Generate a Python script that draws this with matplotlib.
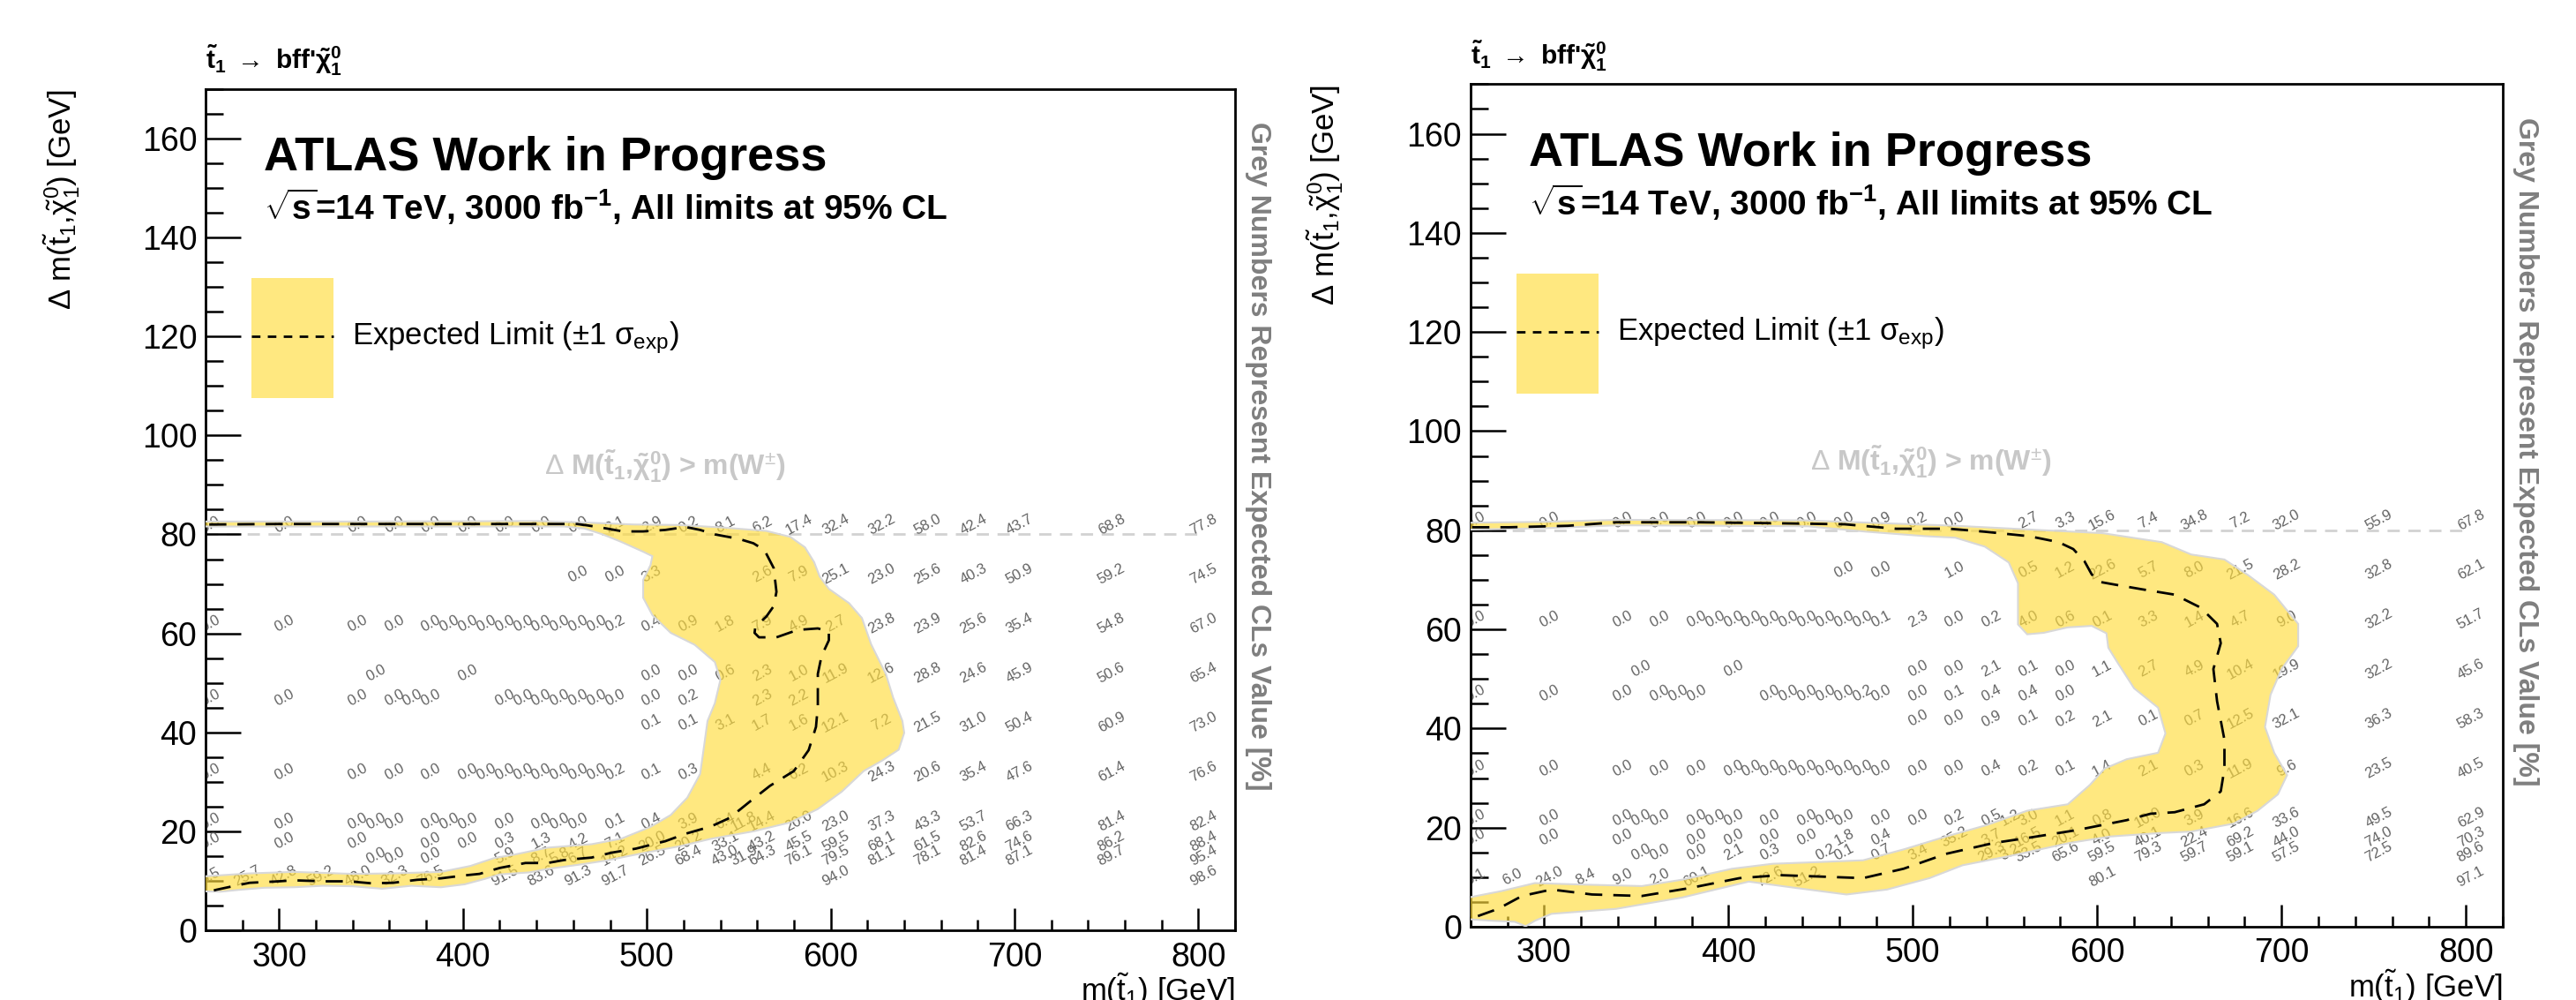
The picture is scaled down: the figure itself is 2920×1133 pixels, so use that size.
import matplotlib
matplotlib.use("Agg")
import matplotlib.pyplot as plt
from matplotlib.patches import Polygon, Rectangle

plt.rcParams['font.family'] = ['Liberation Sans', 'DejaVu Sans']
plt.rcParams['mathtext.fontset'] = 'custom'
plt.rcParams['mathtext.rm'] = 'Liberation Sans'
plt.rcParams['mathtext.it'] = 'Liberation Sans:italic'
plt.rcParams['mathtext.bf'] = 'Liberation Sans:bold'

# ---------------- grey CLs numbers, keyed by delta m row ----------------
left_m = {
    80: [260, 300, 340, 360, 380, 400, 420, 440, 460, 480, 500, 520, 540, 560, 580, 600, 625, 650, 675, 700, 750, 800],
    70: [460, 480, 500, 560, 580, 600, 625, 650, 675, 700, 750, 800],
    60: [260, 300, 340, 360, 380, 390, 400, 410, 420, 430, 440, 450, 460, 470, 480, 500, 520, 540, 560, 580, 600, 625, 650, 675, 700, 750, 800],
    50: [350, 400, 500, 520, 540, 560, 580, 600, 625, 650, 675, 700, 750, 800],
    45: [260, 300, 340, 360, 370, 380, 420, 430, 440, 450, 460, 470, 480, 500, 520, 560, 580],
    40: [500, 520, 540, 560, 580, 600, 625, 650, 675, 700, 750, 800],
    30: [260, 300, 340, 360, 380, 400, 410, 420, 430, 440, 450, 460, 470, 480, 500, 520, 560, 580, 600, 625, 650, 675, 700, 750, 800],
    20: [260, 300, 340, 350, 360, 380, 390, 400, 420, 440, 450, 460, 480, 500, 520, 540, 550, 560, 580, 600, 625, 650, 675, 700, 750, 800],
    16: [260, 300, 340, 380, 400, 420, 440, 460, 480, 500, 520, 540, 560, 580, 600, 625, 650, 675, 700, 750, 800],
    13: [350, 360, 380, 420, 440, 450, 460, 480, 500, 520, 540, 550, 560, 580, 600, 625, 650, 675, 700, 750, 800],
    9: [260, 280, 300, 320, 340, 360, 380, 420, 440, 460, 480, 600, 800],
}
left_cls = {
    80: [0.0] * 8 + [0.0, 2.1, 2.9, 0.2, 8.1, 6.2, 17.4, 32.4, 32.2, 58.0, 42.4, 43.7, 68.8, 77.8],
    70: [0.0, 0.0, 3.3, 2.6, 7.9, 25.1, 23.0, 25.6, 40.3, 50.9, 59.2, 74.5],
    60: [0.0] * 14 + [0.2, 0.4, 0.9, 1.8, 7.9, 4.9, 2.7, 23.8, 23.9, 25.6, 35.4, 54.8, 67.0],
    50: [0.0, 0.0, 0.0, 0.0, 0.6, 2.3, 1.0, 11.9, 12.6, 28.8, 24.6, 45.9, 50.6, 65.4],
    45: [0.0] * 14 + [0.2, 2.3, 2.2],
    40: [0.1, 0.1, 3.1, 1.7, 1.6, 12.1, 7.2, 21.5, 31.0, 50.4, 60.9, 73.0],
    30: [0.0] * 13 + [0.2, 0.1, 0.3, 4.4, 6.2, 10.3, 24.3, 20.6, 35.4, 47.6, 61.4, 76.6],
    20: [0.0] * 12 + [0.1, 0.4, 3.9, 6.4, 11.8, 14.4, 20.0, 23.0, 37.3, 43.3, 53.7, 66.3, 81.4, 82.4],
    16: [0.0, 0.0, 0.0, 0.0, 0.0, 0.3, 1.3, 4.2, 7.1, 20.0, 20.2, 33.1, 43.2, 45.5, 59.5, 68.1, 61.5, 82.6, 74.6, 86.2, 88.4],
    13: [0.0, 0.0, 0.0, 5.9, 8.7, 5.8, 6.7, 14.2, 26.5, 68.4, 43.0, 31.9, 64.3, 76.1, 79.5, 81.1, 78.1, 81.4, 87.1, 89.7, 95.4],
    9: [5.5, 25.7, 42.8, 59.2, 48.0, 32.3, 76.5, 91.5, 83.6, 91.3, 91.7, 94.0, 98.6],
}

right_m = {
    80: [260, 300, 340, 360, 380, 400, 420, 440, 460, 480, 500, 520, 560, 580, 600, 625, 650, 675, 700, 750, 800],
    70: [460, 480, 520, 560, 580, 600, 625, 650, 675, 700, 750, 800],
    60: [260, 300, 340, 360, 380, 390, 400, 410, 420, 430, 440, 450, 460, 470, 480, 500, 520, 540, 560, 580, 600, 625, 650, 675, 700, 750, 800],
    50: [350, 400, 500, 520, 540, 560, 580, 600, 625, 650, 675, 700, 750, 800],
    45: [260, 300, 340, 360, 370, 380, 420, 430, 440, 450, 460, 470, 480, 500, 520, 540, 560, 580],
    40: [500, 520, 540, 560, 580, 600, 625, 650, 675, 700, 750, 800],
    30: [260, 300, 340, 360, 380, 400, 410, 420, 430, 440, 450, 460, 470, 480, 500, 520, 540, 560, 580, 600, 625, 650, 675, 700, 750, 800],
    20: [260, 300, 340, 350, 360, 380, 390, 400, 420, 440, 450, 460, 480, 500, 520, 540, 550, 560, 580, 600, 625, 650, 675, 700, 750, 800],
    16: [260, 300, 340, 380, 400, 420, 440, 460, 480, 520, 540, 560, 580, 600, 625, 650, 675, 700, 750, 800],
    13: [350, 360, 380, 400, 420, 450, 460, 480, 500, 540, 550, 560, 580, 600, 625, 650, 675, 700, 750, 800],
    8: [260, 280, 300, 320, 340, 360, 380, 420, 440, 600, 800],
}
right_cls = {
    80: [0.0] * 9 + [0.9, 0.2, 0.0, 2.7, 3.3, 15.6, 7.4, 34.8, 7.2, 32.0, 55.9, 67.8],
    70: [0.0, 0.0, 1.0, 0.5, 1.2, 22.6, 5.7, 8.0, 21.5, 28.2, 32.8, 62.1],
    60: [0.0] * 14 + [0.1, 2.3, 0.0, 0.2, 4.0, 0.6, 0.1, 3.3, 1.4, 4.7, 9.0, 32.2, 51.7],
    50: [0.0, 0.0, 0.0, 0.0, 2.1, 0.1, 0.0, 1.1, 2.7, 4.9, 10.4, 19.9, 32.2, 45.6],
    45: [0.0] * 11 + [0.2, 0.0, 0.0, 0.1, 0.4, 0.4, 0.0],
    40: [0.0, 0.0, 0.9, 0.1, 0.2, 2.1, 0.1, 0.7, 12.5, 32.1, 36.3, 58.3],
    30: [0.0] * 16 + [0.4, 0.2, 0.1, 1.4, 2.1, 0.3, 11.9, 9.6, 23.5, 40.5],
    20: [0.0] * 14 + [0.2, 0.5, 1.2, 3.0, 1.1, 0.8, 10.0, 3.9, 16.6, 33.6, 49.5, 62.9],
    16: [0.0, 0.0, 0.0, 0.0, 0.0, 0.0, 0.0, 1.8, 0.4, 35.2, 3.7, 16.5, 20.1, 4.0, 40.1, 22.4, 69.2, 44.0, 74.0, 70.3],
    13: [0.0, 0.0, 0.0, 2.1, 0.3, 0.2, 0.1, 0.7, 3.4, 29.3, 3.2, 33.5, 65.6, 59.5, 79.3, 59.7, 59.1, 57.5, 72.5, 89.6],
    8: [0.1, 6.0, 24.0, 8.4, 9.0, 2.0, 60.1, 72.6, 51.2, 80.1, 97.1],
}

# ---------------- expected limit contour and +-1 sigma band ----------------
left_exp_x = [262, 300, 445, 462, 468, 478, 487, 498, 510, 521, 529, 537, 550, 558, 564, 569, 570.5, 569, 565, 559,
              558.6, 561, 570.5, 582, 593, 599, 599, 595, 593, 593, 592, 588, 580, 567, 556, 545, 535, 521, 510, 494,
              481, 470, 455, 446, 434, 420, 409, 401, 388, 375, 362, 350, 338, 324, 308, 300, 284, 276, 266, 262]
left_exp_y = [82.0, 82.1, 82.1, 82.1, 81.8, 81.2, 80.6, 80.6, 80.9, 81.5, 80.9, 80.0, 79.1, 78.2, 76.8, 73.2, 68.4, 65.5, 63.4, 61.3,
              60.1, 59.2, 59.2, 60.7, 61.0, 60.4, 58.6, 55.4, 51.8, 45.3, 41.1, 36.4, 32.2, 29.2, 26.0, 22.7, 21.0, 19.5, 18.0, 16.5,
              15.7, 14.7, 14.2, 13.6, 13.6, 12.6, 11.4, 11.1, 10.5, 10.2, 9.6, 9.5, 9.9, 9.9, 10.1, 9.9, 9.6, 9.0, 8.2, 7.8]

left_outer_x = [255, 350, 440, 466, 493, 517, 541, 565, 578, 586, 591, 594, 599, 610, 617, 622, 630, 634, 639, 640, 637, 628,
                618, 606, 593, 578, 558, 535, 518, 498, 478, 462, 446, 436, 420, 412, 401, 388, 372, 356, 340, 324, 308,
                292, 279, 268, 255]
left_outer_y = [82.6, 82.6, 82.7, 82.4, 82.0, 81.9, 81.4, 80.7, 79.5, 77.4, 74.4, 71.5, 69.0, 66.1, 63.1, 57.8, 51.8, 47.0, 42.3, 39.9, 36.5, 34.3,
                32.2, 28.0, 24.5, 21.8, 20.0, 18.5, 17.0, 15.6, 14.1, 13.2, 12.4, 11.7, 11.3, 10.4, 9.3, 8.7, 9.0, 8.4, 8.9, 9.0, 8.7,
                8.6, 8.2, 7.8, 7.9]
left_inner_x = [255, 284, 308, 340, 362, 388, 404, 417, 428, 446, 470, 486, 502, 513, 522, 529, 531, 533, 537, 540, 537,
                526, 513, 503, 498, 498, 502, 503, 498, 486, 476, 466, 455, 440, 350, 255]
left_inner_y = [10.8, 11.5, 11.8, 11.4, 11.5, 11.8, 13.0, 14.6, 15.3, 16.7, 17.4, 18.5, 20.9, 23.3, 26.8, 31.6, 36.9, 42.3, 45.9, 50.6, 54.2,
                57.7, 60.1, 63.7, 67.2, 70.8, 73.8, 75.6, 76.5, 78.5, 80.0, 81.2, 81.6, 81.6, 81.6, 81.6]

right_exp_x = [261, 281, 313, 339, 384, 428, 463, 491, 520, 539, 563, 579, 587, 593, 597, 601, 610, 624, 642, 656, 665, 667,
               663, 665, 669, 669, 667, 658, 642, 629, 616, 589, 562, 544, 518, 495, 473, 451, 428, 406, 379, 353, 326,
               304, 288, 275, 263]
right_exp_y = [80.6, 80.6, 80.9, 81.6, 81.6, 81.4, 81.2, 80.3, 80.3, 79.7, 78.8, 77.6, 76.2, 73.8, 71.1, 69.6, 69.0, 68.1, 67.0, 64.4, 61.1, 57.2,
               52.0, 45.5, 37.7, 31.9, 27.3, 24.7, 23.1, 22.8, 21.5, 19.5, 17.9, 16.9, 14.7, 11.7, 9.8, 10.1, 10.4, 9.8, 7.8, 6.2, 6.5,
               7.5, 6.2, 3.6, 2.0]

right_outer_x = [255, 300, 340, 440, 523, 571, 603, 635, 651, 669, 682, 696, 709, 709, 700, 694, 691, 696, 703, 698, 687, 674,
                 651, 634, 607, 585, 553, 527, 509, 486, 464, 437, 411, 375, 339, 304, 295, 290, 284, 272, 255]
right_outer_y = [81.5, 81.7, 82.1, 82.0, 80.9, 80.0, 79.4, 77.6, 75.1, 74.1, 70.9, 67.0, 61.1, 56.6, 52.0, 46.8, 40.3, 35.1, 30.6, 26.7, 23.4, 20.8,
                 19.2, 18.9, 18.2, 16.9, 14.3, 12.4, 9.8, 7.5, 6.5, 7.8, 9.1, 5.9, 3.6, 2.6, 1.2, 0.1, 1.0, 1.2, 1.6]
right_inner_x = [255, 277, 295, 321, 353, 375, 402, 424, 446, 473, 495, 518, 540, 562, 584, 596, 604, 616, 633, 637, 633,
                 620, 611, 606, 605, 597, 584, 571, 562, 557, 557, 557, 552, 539, 523, 507, 475, 443, 340, 300, 255]
right_inner_y = [5.6, 7.2, 8.8, 8.5, 8.2, 9.5, 11.7, 12.7, 13.0, 13.4, 15.6, 18.2, 20.5, 23.4, 24.7, 28.6, 31.9, 33.8, 35.1, 39.0, 44.2,
                 48.1, 53.3, 56.3, 59.2, 60.7, 60.4, 59.3, 59.0, 61.0, 64.6, 69.3, 73.5, 76.7, 78.5, 78.8, 79.7, 80.8, 81.0, 80.4, 80.1]

panels = [
    dict(pos=[0.0798, 0.0697, 0.3997, 0.8413], m=left_m, cls=left_cls,
         ox=left_outer_x, oy=left_outer_y, ix=left_inner_x, iy=left_inner_y,
         ex=left_exp_x, ey=left_exp_y, ylab_x=-0.12),
    dict(pos=[0.5708, 0.0733, 0.4008, 0.8425], m=right_m, cls=right_cls,
         ox=right_outer_x, oy=right_outer_y, ix=right_inner_x, iy=right_inner_y,
         ex=right_exp_x, ey=right_exp_y, ylab_x=-0.121),
]

band_col = '#FFDC3C'
band_alpha = 0.65

fig = plt.figure(figsize=(29.2, 11.33), dpi=100)

for p in panels:
    ax = fig.add_axes(p['pos'])
    ax.set_xlim(260, 820)
    ax.set_ylim(0, 170)

    # grey numbers
    for dm in p['m']:
        for mx, v in zip(p['m'][dm], p['cls'][dm]):
            ax.text(mx + 2.7, dm + 2.0, "%.1f" % v, fontsize=12, color='#626262',
                    rotation=28, ha='center', va='center', rotation_mode='anchor',
                    clip_on=True, zorder=2)

    # kinematic line
    ax.plot([260, 800], [80, 80], color='#d2d2d2', lw=2, ls=(0, (5, 3.5)), zorder=1)

    # band
    poly_x = p['ox'] + p['ix']
    poly_y = p['oy'] + p['iy']
    ax.add_patch(Polygon(list(zip(poly_x, poly_y)), closed=True, facecolor=band_col,
                         alpha=band_alpha, edgecolor='none', zorder=3))
    ax.add_patch(Polygon(list(zip(poly_x, poly_y)), closed=True, facecolor='none',
                         edgecolor='#d8d8d8', lw=1.5, zorder=3))
    ax.plot(p['ex'], p['ey'], color='black', lw=2, ls=(0, (7, 4.5)), zorder=4)

    # legend
    ax.add_patch(Rectangle((285, 107.5), 44.5, 24.3, facecolor=band_col, alpha=band_alpha,
                           edgecolor='none', zorder=3))
    ax.plot([285, 329.5], [120, 120], color='black', lw=2, ls=(0, (3.5, 3)), zorder=4)
    ax.text(339.5, 118.3, r"Expected Limit ($\pm$1 $\mathrm{\sigma}_{\mathrm{exp}}$)",
            fontsize=25, ha='left', va='baseline', zorder=5)

    ax.text(291.5, 153.5, "ATLAS Work in Progress", fontsize=39, fontweight='bold',
            ha='left', va='baseline')
    ax.text(291.5, 143.6, r"$\mathbf{\sqrt{s}}$=14 TeV, 3000 fb$^{\mathbf{-1}}$, All limits at 95% CL",
            fontsize=28, fontweight='bold', ha='left', va='baseline')
    ax.text(510, 92, r"$\Delta$ M($\mathbf{\tilde{t}_{1}}$,$\mathbf{\tilde{\chi}^{0}_{1}}$) > m(W$^{\pm}$)",
            fontsize=23, fontweight='bold', color='#c8c8c8', ha='center', va='baseline')
    ax.text(260, 174, r"$\mathbf{\tilde{t}_{1}}$ $\rightarrow$ bff'$\mathbf{\tilde{\chi}^{0}_{1}}$",
            fontsize=21.5, fontweight='bold', ha='left', va='baseline', clip_on=False)
    ax.text(1.022, 0.564, "Grey Numbers Represent Expected CLs Value [%]", transform=ax.transAxes,
            rotation=-90, fontsize=23, fontweight='bold', color='#7f7f7f',
            ha='center', va='center')

    # axis titles (ROOT style: aligned to the axis ends)
    ax.text(1.0, -0.049, r"m($\tilde{\mathrm{t}}_{1}$) [GeV]", transform=ax.transAxes,
            fontsize=25, ha='right', va='top')
    ax.text(p['ylab_x'], 1.0, r"$\Delta$ m($\tilde{\mathrm{t}}_{1}$,$\tilde{\mathrm{\chi}}^{0}_{1}$) [GeV]",
            transform=ax.transAxes, fontsize=25, rotation=90, rotation_mode='anchor',
            ha='right', va='bottom')

    ax.set_xticks([300, 400, 500, 600, 700, 800])
    ax.set_xticks(range(260, 821, 20), minor=True)
    ax.set_yticks(range(0, 161, 20))
    ax.set_yticks(range(0, 171, 5), minor=True)
    ax.tick_params(axis='both', which='both', direction='in', top=False, right=False,
                   labelsize=27, width=1.8)
    ax.tick_params(axis='y', which='major', length=29, pad=7)
    ax.tick_params(axis='y', which='minor', length=14.5)
    ax.tick_params(axis='x', which='major', length=18, pad=9)
    ax.tick_params(axis='x', which='minor', length=9)
    for s in ax.spines.values():
        s.set_linewidth(2)

fig.savefig("out.png", dpi=100)
